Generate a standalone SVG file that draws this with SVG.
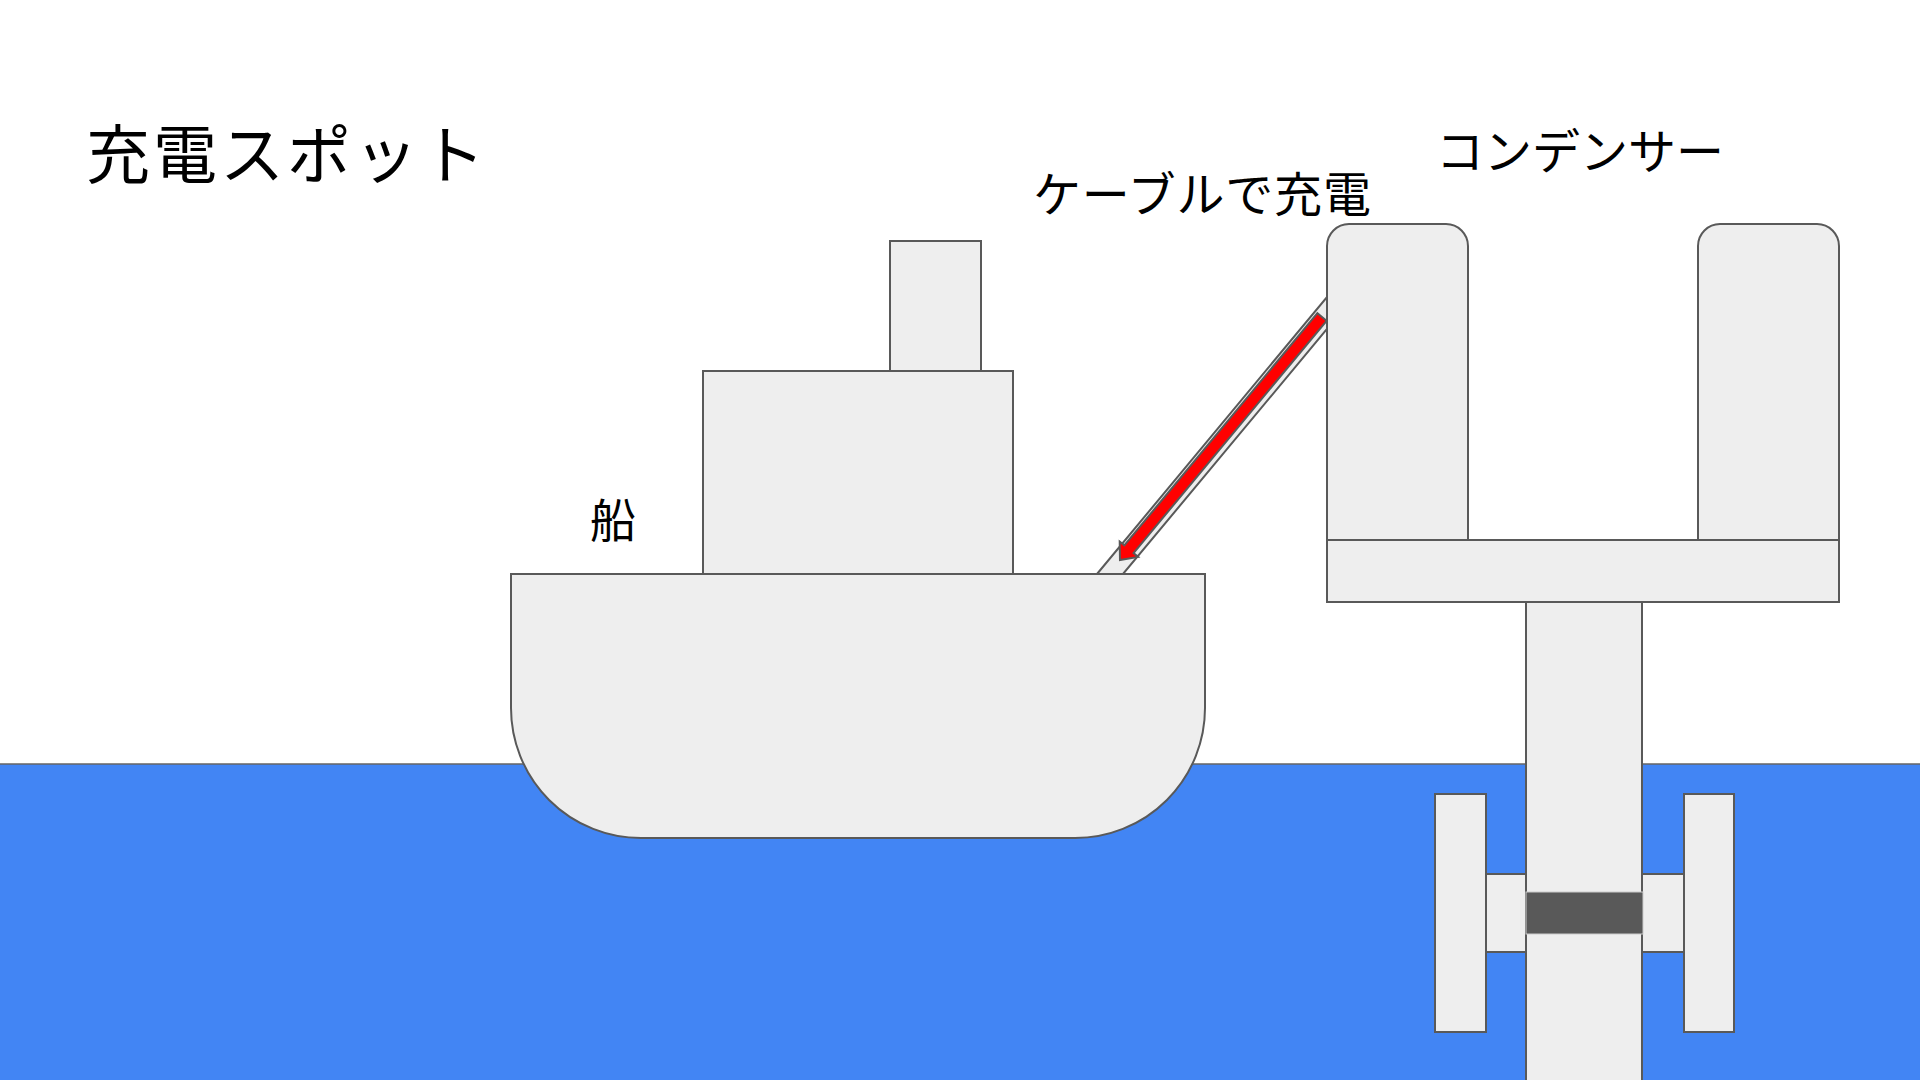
<svg xmlns="http://www.w3.org/2000/svg" width="1920" height="1080" viewBox="0 0 1920 1080">
  <style>
    .part { fill: #eeeeee; stroke: #595959; stroke-width: 2; }
    .label { font-family: "Noto Sans CJK JP", "Noto Sans", sans-serif; fill: #000000; }
  </style>

  <!-- background -->
  <rect x="0" y="0" width="1920" height="1080" fill="#ffffff"/>

  <!-- sea -->
  <g id="sea">
    <rect x="-4" y="764" width="1928" height="320" fill="#4285f4" stroke="#666666" stroke-width="1.5"/>
  </g>

  <!-- charging cable and flow arrow -->
  <g id="connectors">
    <polygon class="part" points="1097,574 1327,297 1327,329 1123,574"/>
    <path d="M0,-6 L302,-6 L302,-12 L316,0 L302,12 L302,6 L0,6 Z" fill="#ff0000" stroke="#595959" stroke-width="2" stroke-linejoin="miter" transform="translate(1322,317) rotate(129.74)"/>
  </g>

  <!-- ship -->
  <g id="ship">
    <rect class="part" x="890" y="241" width="91" height="130"/>
    <rect class="part" x="703" y="371" width="310" height="203"/>
    <path class="part" d="M511,574 H1205 V708 A130,130 0 0 1 1075,838 H641 A130,130 0 0 1 511,708 Z"/>
  </g>

  <!-- condenser station -->
  <g id="condenser">
    <path class="part" d="M1327,540 V246 A22,22 0 0 1 1349,224 H1446 A22,22 0 0 1 1468,246 V540 Z"/>
    <path class="part" d="M1698,540 V246 A22,22 0 0 1 1720,224 H1817 A22,22 0 0 1 1839,246 V540 Z"/>
    <rect class="part" x="1327" y="540" width="512" height="62"/>
    <rect class="part" x="1526" y="602" width="116" height="490"/>
    <rect class="part" x="1435" y="794" width="51" height="238"/>
    <rect class="part" x="1684" y="794" width="50" height="238"/>
    <rect class="part" x="1486" y="874" width="40" height="78"/>
    <rect class="part" x="1642" y="874" width="42" height="78"/>
    <rect x="1526" y="892" width="117" height="42" fill="#595959" stroke="#cccccc" stroke-width="1"/>
  </g>

  <!-- labels -->
  <g id="labels">
    <text class="label" x="86" y="178" font-size="64" letter-spacing="3">充電スポット</text>
    <text class="label" x="1033" y="212" font-size="48" letter-spacing="0.8">ケーブルで充電</text>
    <text class="label" x="1436" y="169" font-size="48">コンデンサー</text>
    <text class="label" x="590" y="537" font-size="46">船</text>
  </g>
</svg>
